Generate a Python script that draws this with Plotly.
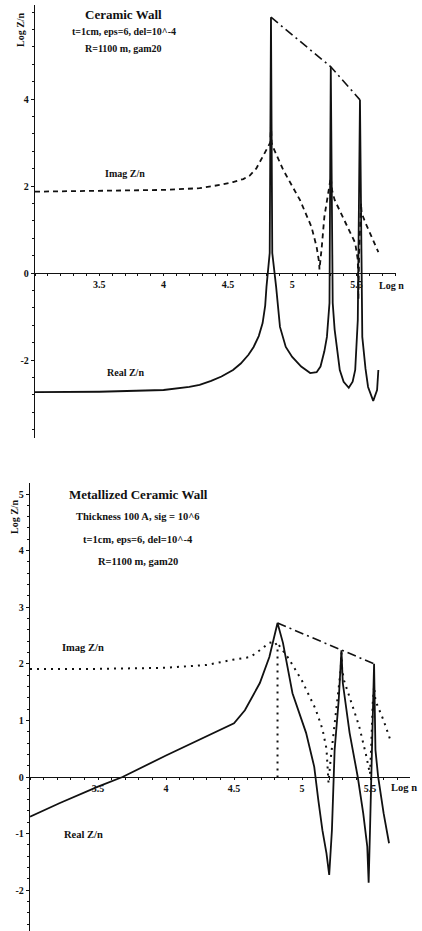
import plotly.graph_objects as go

W, H = 422, 931

# ---------------- Panel 1: Ceramic Wall ----------------
p1_real_logn = [3.0, 3.5, 4.0, 4.1, 4.2, 4.28, 4.37, 4.45, 4.54, 4.60, 4.66, 4.70, 4.74, 4.77, 4.79, 4.80, 4.825, 4.835,
                4.845, 4.875, 4.905, 4.95, 5.0, 5.07, 5.14, 5.19, 5.22, 5.25, 5.27, 5.29, 5.30, 5.315, 5.33, 5.37,
                5.40, 5.44, 5.47, 5.49, 5.51, 5.527, 5.545, 5.57, 5.59, 5.63, 5.66, 5.67]
p1_real_val = [-2.74, -2.73, -2.69, -2.66, -2.62, -2.57, -2.48, -2.38, -2.23, -2.08, -1.88, -1.70, -1.45, -1.15, -0.75,
               -0.32, 0.46, 5.88,
               0.46, -0.32, -1.24, -1.70, -1.93, -2.15, -2.30, -2.28, -2.15, -1.80, -1.47, -0.69, 4.74, -0.69, -1.30,
               -2.23, -2.50, -2.64, -2.50, -2.23, -1.08, 3.98, -1.47, -2.20, -2.62, -2.94, -2.69, -2.23]

p1_imag_logn = [3.0, 3.76, 4.0, 4.28, 4.45, 4.54, 4.62, 4.67, 4.72, 4.77, 4.81, 4.83, 4.835, 4.84, 4.85, 4.93, 5.06,
                5.15, 5.19, 5.21, 5.212, 5.22, 5.23, 5.25, 5.29, 5.30, 5.31, 5.33, 5.43, 5.49, 5.51, 5.515,
                5.52, 5.53, 5.535, 5.54, 5.57, 5.67]
p1_imag_val = [1.87, 1.89, 1.91, 1.95, 2.03, 2.09, 2.16, 2.24, 2.40, 2.67, 2.9, 3.0, 3.4, 3.0, 2.90, 2.37, 1.68,
               1.06, 0.6, 0.23, 0.08, 0.3, 0.6, 1.29, 1.98, 2.2, 1.9, 1.68, 1.06, 0.69, 0.3, -0.6,
               0.4, 1.29, 1.6, 1.38, 1.15, 0.48]

p1_env_logn = [4.835, 5.30, 5.527]
p1_env_val = [5.88, 4.74, 3.98]

# ---------------- Panel 2: Metallized Ceramic Wall ----------------
p2_real_logn = [3.0, 3.22, 3.5, 3.68, 4.0, 4.3, 4.5, 4.58, 4.62, 4.65, 4.69, 4.76, 4.81, 4.82,
                4.86, 4.93, 5.03, 5.09, 5.12, 5.15, 5.18, 5.20, 5.22, 5.23, 5.24, 5.27, 5.29,
                5.30, 5.35, 5.41, 5.45, 5.48, 5.49, 5.50, 5.51, 5.52, 5.53, 5.54, 5.56, 5.60, 5.64]
p2_real_val = [-0.70, -0.46, -0.17, 0.0, 0.38, 0.72, 0.95, 1.18, 1.36, 1.48, 1.66, 2.12, 2.65, 2.72,
               2.37, 1.48, 0.78, 0.18, -0.41, -0.94, -1.35, -1.73, -0.94, -0.23, 0.48, 1.36, 2.24,
               1.66, 0.78, 0.0, -0.64, -1.23, -1.87, -0.94, -0.05, 1.06, 2.0, 0.48, 0.0, -0.64, -1.17]

p2_imag_logn = [3.0, 3.5, 4.0, 4.3, 4.49, 4.62, 4.69, 4.76, 4.80, 4.82, 4.82, None,
                4.83, 4.9, 5.0, 5.1, 5.15, 5.18, 5.19, 5.195, 5.21, 5.24, 5.27, 5.285, 5.29, 5.295,
                5.31, 5.36, 5.42, 5.47, 5.50, 5.51, 5.52, 5.53, 5.54, 5.60, 5.65]
p2_imag_val = [1.91, 1.91, 1.93, 1.98, 2.07, 2.12, 2.24, 2.37, 2.39, 2.3, 0.0, None,
               2.33, 2.1, 1.7, 1.2, 0.85, 0.5, 0.1, -0.1, 0.3, 0.9, 1.5, 1.9, 2.2, 1.9,
               1.7, 1.35, 0.9, 0.4, 0.05, 0.6, 1.3, 1.6, 1.35, 1.0, 0.65]

p2_env_logn = [4.82, 5.29, 5.53]
p2_env_val = [2.72, 2.24, 2.0]

# tick labels
p1_xticks = [3.5, 4, 4.5, 5, 5.5]
p1_xticktext = ["3.5", "4", "4.5", "5", "5.5"]
p1_yticks = [-2, 0, 2, 4]
p2_xticks = [3.5, 4, 4.5, 5, 5.5]
p2_xticktext = ["3.5", "4", "4.5", "5", "5.5"]
p2_yticks = [-2, -1, 0, 1, 2, 3, 4, 5]

SERIF = "Liberation Serif"
BLACK = "#111111"


def px_x(px):
    return px / W


def px_y(py):
    return 1 - py / H


fig = go.Figure()

# panel 1 traces
fig.add_trace(go.Scatter(x=p1_real_logn, y=p1_real_val, mode="lines",
                         line=dict(color=BLACK, width=1.8), xaxis="x", yaxis="y", showlegend=False))
fig.add_trace(go.Scatter(x=p1_imag_logn, y=p1_imag_val, mode="lines",
                         line=dict(color=BLACK, width=1.8, dash="5px,4px"), xaxis="x", yaxis="y", showlegend=False))
fig.add_trace(go.Scatter(x=p1_env_logn, y=p1_env_val, mode="lines",
                         line=dict(color=BLACK, width=1.6, dash="9px,4px,2px,4px"), xaxis="x", yaxis="y", showlegend=False))

# panel 2 traces
fig.add_trace(go.Scatter(x=p2_real_logn, y=p2_real_val, mode="lines",
                         line=dict(color=BLACK, width=1.8), xaxis="x2", yaxis="y2", showlegend=False))
fig.add_trace(go.Scatter(x=p2_imag_logn, y=p2_imag_val, mode="lines", connectgaps=False,
                         line=dict(color=BLACK, width=2, dash="2px,5px"), xaxis="x2", yaxis="y2", showlegend=False))
fig.add_trace(go.Scatter(x=p2_env_logn, y=p2_env_val, mode="lines",
                         line=dict(color=BLACK, width=1.6, dash="9px,4px,2px,4px"), xaxis="x2", yaxis="y2", showlegend=False))

tickfont = dict(family=SERIF, size=10, color=BLACK)

# Panel 1 axes
x1_l, x1_r = 35, 396
y1_t, y1_b, y1_zero = 5, 438, 273
x1_unit = 128.6
y1_unit = 43.5
fig.update_layout(
    xaxis=dict(domain=[px_x(x1_l), px_x(x1_r)], range=[3.0, 3.0 + (x1_r - x1_l) / x1_unit],
               anchor="free", position=px_y(y1_zero), showline=True, linecolor=BLACK, linewidth=1.4,
               tickvals=p1_xticks, ticktext=["<b>%s</b>" % t for t in p1_xticktext],
               ticks="outside", ticklen=2, tickcolor=BLACK, tickfont=tickfont,
               minor=dict(dtick=0.1, ticks="outside", ticklen=2, tickcolor=BLACK),
               showgrid=False, zeroline=False, fixedrange=True),
    yaxis=dict(domain=[px_y(y1_b), px_y(y1_t)],
               range=[(y1_zero - y1_b) / y1_unit, (y1_zero - y1_t) / y1_unit],
               anchor="x", showline=True, linecolor=BLACK, linewidth=1.4,
               tickvals=p1_yticks, ticktext=["<b>%d</b>" % v for v in p1_yticks],
               ticks="outside", ticklen=3, tickcolor=BLACK, tickfont=tickfont,
               minor=dict(dtick=0.4, ticks="outside", ticklen=2, tickcolor=BLACK),
               showgrid=False, zeroline=False, fixedrange=True),
)

# Panel 2 axes
x2_l, x2_r = 30, 410
y2_t, y2_b, y2_zero = 483, 931, 777
x2_unit = 136.0
y2_unit = 56.6
fig.update_layout(
    xaxis2=dict(domain=[px_x(x2_l), px_x(x2_r)], range=[3.0, 3.0 + (x2_r - x2_l) / x2_unit],
                anchor="free", position=px_y(y2_zero), showline=True, linecolor=BLACK, linewidth=1.4,
                tickvals=p2_xticks, ticktext=["<b>%s</b>" % t for t in p2_xticktext],
                ticks="outside", ticklen=2, tickcolor=BLACK, tickfont=tickfont,
                minor=dict(dtick=0.1, ticks="outside", ticklen=2, tickcolor=BLACK),
                showgrid=False, zeroline=False, fixedrange=True),
    yaxis2=dict(domain=[0, px_y(y2_t)],
                range=[(y2_zero - y2_b) / y2_unit, (y2_zero - y2_t) / y2_unit],
                anchor="x2", showline=True, linecolor=BLACK, linewidth=1.4,
                tickvals=p2_yticks, ticktext=["<b>%d</b>" % v for v in p2_yticks],
                ticks="outside", ticklen=3, tickcolor=BLACK, tickfont=tickfont,
                minor=dict(dtick=0.2, ticks="outside", ticklen=2, tickcolor=BLACK),
                showgrid=False, zeroline=False, fixedrange=True),
)


def label(text, px, py, size=10, angle=0):
    fig.add_annotation(text="<b>%s</b>" % text, x=px_x(px), y=px_y(py), xref="paper", yref="paper",
                       showarrow=False, xanchor="center", yanchor="middle", textangle=angle,
                       font=dict(family=SERIF, size=size, color=BLACK))


# Panel 1 texts
label("Ceramic Wall", 124, 15, size=13)
label("t=1cm, eps=6, del=10^-4", 124, 32, size=10)
label("R=1100 m, gam20", 124, 49, size=10)
label("Imag Z/n", 125, 174, size=10)
label("Real Z/n", 125, 373, size=10)
label("Log Z/n", 20, 30, size=10, angle=-90)
label("Log n", 391, 286, size=10)

# Panel 2 texts
label("Metallized Ceramic Wall", 138, 494, size=13)
label("Thickness 100 A, sig = 10^6", 138, 516, size=10.5)
label("t=1cm, eps=6, del=10^-4", 138, 539, size=10.5)
label("R=1100 m, gam20", 138, 561, size=10.5)
label("Imag Z/n", 83, 647, size=10.5)
label("Real Z/n", 83, 834, size=10.5)
label("Log Z/n", 14, 517, size=10, angle=-90)
label("Log n", 404, 787, size=10.5)

fig.update_layout(width=W, height=H, margin=dict(l=0, r=0, t=0, b=0),
                  paper_bgcolor="white", plot_bgcolor="white", showlegend=False)

fig.write_html("out.html", config={"displayModeBar": False},
               post_script="document.body.style.margin='0';document.body.style.overflow='hidden';")
